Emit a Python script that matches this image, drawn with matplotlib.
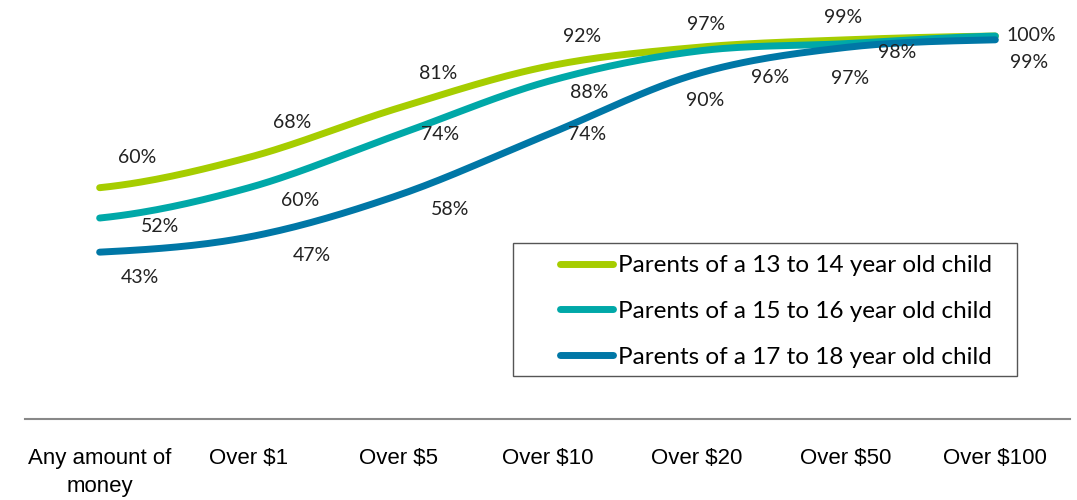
import numpy as np
import matplotlib
matplotlib.use('Agg')
import matplotlib.pyplot as plt
from matplotlib.lines import Line2D
from matplotlib.patches import Rectangle

categories = ['Any amount of\nmoney', 'Over $1', 'Over $5', 'Over $10', 'Over $20', 'Over $50', 'Over $100']
series_names = ['Parents of a 13 to 14 year old child',
                'Parents of a 15 to 16 year old child',
                'Parents of a 17 to 18 year old child']
age_13_14 = [60, 68, 81, 92, 97, 99, 100]
age_15_16 = [52, 60, 74, 88, 96, 98, 100]
age_17_18 = [43, 47, 58, 74, 90, 97, 99]

colors = ['#a6cd00', '#00a8a8', '#0077a6']

# label offsets in pixels (dx, dy) per point, None = no label
offsets = [
    [(37, 30), (43, 35), (40, 35), (35, 30), (9, 23), (-3, 22), None],
    [(60, -8), (51, -13), (42, 0), (42, -11), (73, -26), (51, -9), (36, 1)],
    [(40, -25), (63, -19), (52, -14), (40, 0), (8, -27), (4, -31), (34, -23)],
]


def smooth(x, y, n=30):
    # catmull-rom style smoothing, like excel's smoothed line
    x = np.asarray(x, float)
    y = np.asarray(y, float)
    px = np.concatenate([[2 * x[0] - x[1]], x, [2 * x[-1] - x[-2]]])
    py = np.concatenate([[y[0]], y, [y[-1]]])
    xs, ys = [], []
    t = np.linspace(0, 1, n)
    for i in range(1, len(px) - 2):
        p0, p1, p2, p3 = [np.array([px[j], py[j]]) for j in (i - 1, i, i + 1, i + 2)]
        tt = t[:, None]
        pts = 0.5 * ((2 * p1) + (-p0 + p2) * tt + (2 * p0 - 5 * p1 + 4 * p2 - p3) * tt ** 2
                     + (-p0 + 3 * p1 - 3 * p2 + p3) * tt ** 3)
        xs.append(pts[:, 0])
        ys.append(pts[:, 1])
    return np.concatenate(xs), np.concatenate(ys)


fig = plt.figure(figsize=(10.77, 5), dpi=100)
ax = fig.add_axes([25 / 1077, 81 / 500, 1045 / 1077, 419 / 500])

x = np.arange(len(categories))
for vals, col, offs in zip([age_13_14, age_15_16, age_17_18], colors, offsets):
    sx, sy = smooth(x, vals)
    ax.plot(sx, sy, color=col, lw=5, solid_capstyle='round')
    for xi, v, o in zip(x, vals, offs):
        if o is None:
            continue
        ax.annotate(f'{v}%', (xi, v), xytext=o, textcoords='offset pixels',
                    ha='center', va='center', fontsize=14, family='Lato', color='#222222')

ax.set_xlim(-0.5, 6.5)
ax.set_ylim(-1, 109.5)
ax.set_xticks(x)
ax.set_xticklabels(categories, fontsize=16, family='Liberation Sans', linespacing=1.45)
ax.tick_params(axis='x', length=0, pad=21)
ax.set_yticks([])
for s in ['top', 'right', 'left']:
    ax.spines[s].set_visible(False)
ax.spines['bottom'].set_color('#888888')
ax.spines['bottom'].set_linewidth(1.5)

# legend box
fig.patches.append(Rectangle((513 / 1077, 1 - 376 / 500), 504 / 1077, 133 / 500,
                             transform=fig.transFigure, fill=False,
                             edgecolor='#555555', lw=1))
handles = [Line2D([], [], color=c, lw=5, solid_capstyle='round') for c in colors]
leg = fig.legend(handles, series_names, loc='upper left',
                 bbox_to_anchor=(560 / 1077, 1 - 255 / 500),
                 prop={'family': 'Lato', 'size': 17.5}, frameon=False,
                 handlelength=2.2, handletextpad=0.2,
                 borderpad=0, labelspacing=1.02, borderaxespad=0)

fig.savefig('out.png', dpi=100)
